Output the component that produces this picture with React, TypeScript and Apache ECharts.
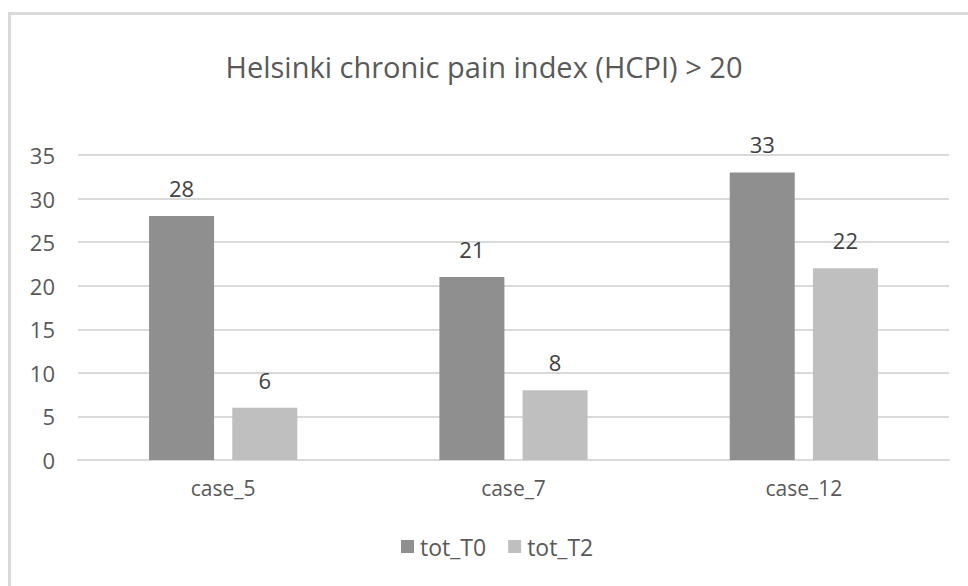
import React, { useEffect, useRef } from "react";
import * as echarts from "echarts";

const categories = ["case_5", "case_7", "case_12"];
const totT0 = [28, 21, 33];
const totT2 = [6, 8, 22];
const seriesNames = ["tot_T0", "tot_T2"];
const titleText = "Helsinki chronic pain index (HCPI) > 20";

const FONT = "'Open Sans', 'Noto Sans', sans-serif";

export default function App() {
  const ref = useRef<HTMLDivElement>(null);
  useEffect(() => {
    if (!ref.current) return;
    const chart = echarts.init(ref.current, null, { renderer: "svg" });
    const labelStyle = {
      show: true,
      position: "top" as const,
      distance: 17,
      color: "#404040",
      fontSize: 22,
      fontFamily: FONT,
    };
    chart.setOption({
      animation: false,
      backgroundColor: "#ffffff",
      graphic: [
        {
          type: "rect",
          shape: { x: 9.5, y: 13.5, width: 1000, height: 1000 },
          style: { fill: "none", stroke: "#d9d9d9", lineWidth: 3 },
          silent: true,
        },
      ],
      title: {
        text: titleText,
        left: "center",
        top: 47,
        textStyle: {
          color: "#595959",
          fontSize: 29,
          fontWeight: "normal",
          fontFamily: FONT,
        },
      },
      legend: {
        bottom: 23,
        left: 396,
        itemWidth: 13,
        itemHeight: 13,
        itemGap: 22,
        icon: "rect",
        textStyle: { color: "#595959", fontSize: 23, fontFamily: FONT, padding: [0, 0, 0, 1] },
        data: seriesNames,
      },
      grid: { left: 78, right: 19, top: 155, bottom: 126, containLabel: false },
      xAxis: {
        type: "category",
        data: categories,
        axisLine: { lineStyle: { color: "#d9d9d9", width: 2 } },
        axisTick: { show: false },
        axisLabel: { color: "#595959", fontSize: 21, fontFamily: FONT, margin: 17 },
      },
      yAxis: {
        type: "value",
        min: 0,
        max: 35,
        interval: 5,
        axisLine: { show: false },
        axisTick: { show: false },
        axisLabel: { color: "#595959", fontSize: 22, fontFamily: FONT, margin: 23 },
        splitLine: { lineStyle: { color: "#d9d9d9", width: 2 } },
      },
      series: [
        {
          name: seriesNames[0],
          type: "bar",
          data: totT0,
          barWidth: 65,
          barGap: "28%",
          itemStyle: { color: "#8f8f8f" },
          label: labelStyle,
        },
        {
          name: seriesNames[1],
          type: "bar",
          data: totT2,
          barWidth: 65,
          barGap: "28%",
          itemStyle: { color: "#bfbfbf" },
          label: labelStyle,
        },
      ],
    });
    return () => chart.dispose();
  }, []);
  return (
    <div
      ref={ref}
      style={{ position: "fixed", left: 0, top: 0, width: 968, height: 586 }}
    />
  );
}
